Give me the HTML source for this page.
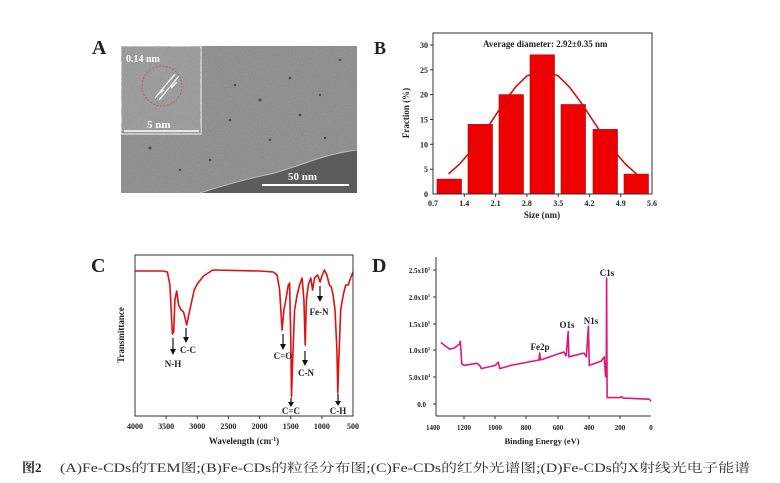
<!DOCTYPE html>
<html><head><meta charset="utf-8"><style>
html,body{margin:0;padding:0;background:#fff;}
svg{display:block;}
text{font-family:"Liberation Serif","Noto Serif CJK SC",serif;font-weight:bold;fill:#222;}
.t{font-size:8px;}
</style></head><body>
<svg width="780" height="483" viewBox="0 0 780 483" xmlns="http://www.w3.org/2000/svg">
<defs>
<filter id="noise" x="0" y="0" width="100%" height="100%">
<feTurbulence type="fractalNoise" baseFrequency="0.9" numOctaves="2" seed="3"/>
<feColorMatrix type="matrix" values="0 0 0 0 0.4  0 0 0 0 0.4  0 0 0 0 0.4  0 0 0 0.6 0"/>
</filter>
<filter id="noise2" x="0" y="0" width="100%" height="100%">
<feTurbulence type="fractalNoise" baseFrequency="0.35" numOctaves="2" seed="7"/>
<feColorMatrix type="matrix" values="0 0 0 0 0.35  0 0 0 0 0.35  0 0 0 0 0.35  0 0 0 1.4 -0.4"/>
</filter>
</defs>

<!-- Panel A -->
<text x="92" y="54" style="font-size:20px">A</text>
<rect x="121" y="46" width="236" height="147" fill="#858585"/>
<rect x="121" y="46" width="236" height="147" filter="url(#noise)"/>
<path d="M200 193 Q240 180 275 173 Q300 165 320 158 Q340 152 357 150 L357 193 Z" fill="#5c5c5c"/>
<path d="M200 193 Q240 180 275 173 Q300 165 320 158 Q340 152 357 150" fill="none" stroke="#bbb" stroke-width="1"/>
<g fill="#4a4a4a">
<circle cx="150" cy="148" r="1.5"/><circle cx="230" cy="120" r="1.3"/><circle cx="290" cy="78" r="1.3"/><circle cx="320" cy="95" r="1.2"/><circle cx="260" cy="100" r="1.5"/><circle cx="210" cy="160" r="1.3"/><circle cx="340" cy="60" r="1.2"/><circle cx="180" cy="170" r="1.2"/><circle cx="270" cy="140" r="1.2"/><circle cx="300" cy="115" r="1.4"/><circle cx="235" cy="85" r="1.2"/><circle cx="325" cy="138" r="1.2"/>
</g>
<rect x="121" y="46" width="80" height="88" fill="#9a9a9a" stroke="#fff" stroke-width="1"/>
<rect x="121" y="46" width="80" height="88" filter="url(#noise2)"/>
<circle cx="162" cy="86" r="20" fill="none" stroke="#c06060" stroke-width="1" stroke-dasharray="2,1.5"/>
<path d="M155 98 L175 74 M159 100 L179 76" stroke="#fff" stroke-width="1.2"/>
<path d="M177 82 L171 88 M158 94 L164 90" stroke="#fff" stroke-width="1.5"/>
<text x="126" y="62" style="font-size:10px;fill:#fff">0.14 nm</text>
<text x="147" y="128" style="font-size:11px;fill:#fff">5 nm</text>
<line x1="124" y1="131" x2="199" y2="131" stroke="#fff" stroke-width="1.5"/>
<text x="288" y="180" style="font-size:11px;fill:#fff">50 nm</text>
<line x1="262" y1="185" x2="349" y2="185" stroke="#fff" stroke-width="2"/>

<!-- Panel B -->
<text x="374" y="54" style="font-size:18px">B</text>
<g fill="#ee0000" stroke="#a00" stroke-width="0.6">
<rect x="437" y="179.1" width="24.5" height="14.9"/>
<rect x="468" y="124.4" width="24.5" height="69.6"/>
<rect x="499" y="94.6" width="24.5" height="99.4"/>
<rect x="530" y="54.8" width="24.5" height="139.2"/>
<rect x="561" y="104.5" width="24.5" height="89.5"/>
<rect x="593" y="129.4" width="24.5" height="64.6"/>
<rect x="624" y="174.1" width="24.5" height="19.9"/>
</g>
<polyline fill="none" stroke="#d01010" stroke-width="1.6" points="448.6,173.9 459.8,163.8 471,150.9 482.2,135.5 493.3,118.7 504.5,101.8 515.7,86.9 526.9,75.9 542.5,69.8 558.2,75.9 569.3,86.9 580.5,101.8 591.7,118.7 602.9,135.5 614,150.9 625.2,163.8 636.4,173.9"/>
<rect x="433" y="33" width="219" height="161" fill="none" stroke="#333" stroke-width="1"/>
<g stroke="#333" stroke-width="1">
<line x1="433" y1="45" x2="430" y2="45"/><line x1="433" y1="69.8" x2="430" y2="69.8"/><line x1="433" y1="94.6" x2="430" y2="94.6"/><line x1="433" y1="119.5" x2="430" y2="119.5"/><line x1="433" y1="144.3" x2="430" y2="144.3"/><line x1="433" y1="169.2" x2="430" y2="169.2"/>
<line x1="464.3" y1="194" x2="464.3" y2="197"/><line x1="495.6" y1="194" x2="495.6" y2="197"/><line x1="526.9" y1="194" x2="526.9" y2="197"/><line x1="558.2" y1="194" x2="558.2" y2="197"/><line x1="589.5" y1="194" x2="589.5" y2="197"/><line x1="620.8" y1="194" x2="620.8" y2="197"/>
</g>
<g class="t" text-anchor="end">
<text x="428" y="48">30</text><text x="428" y="72.8">25</text><text x="428" y="97.6">20</text><text x="428" y="122.5">15</text><text x="428" y="147.3">10</text><text x="428" y="172.2">5</text><text x="428" y="197">0</text>
</g>
<g class="t" text-anchor="middle">
<text x="433" y="206">0.7</text><text x="464.3" y="206">1.4</text><text x="495.6" y="206">2.1</text><text x="526.9" y="206">2.8</text><text x="558.2" y="206">3.5</text><text x="589.5" y="206">4.2</text><text x="620.8" y="206">4.9</text><text x="652" y="206">5.6</text>
</g>
<text x="542" y="218" text-anchor="middle" style="font-size:9px">Size (nm)</text>
<text transform="translate(409,113) rotate(-90)" text-anchor="middle" style="font-size:9px">Fraction (%)</text>
<text x="483" y="47" style="font-size:9px">Average diameter: 2.92±0.35 nm</text>

<!-- Panel C -->
<text x="91" y="272" style="font-size:20px">C</text>
<polyline fill="none" stroke="#e01010" stroke-width="1.6" stroke-linejoin="round" points="135,271 163,271 167.4,272 169.9,285 172.4,334 173.7,332 174.9,300 176.7,291 178.6,305 181.1,310 183.6,312 186.7,325 189.8,310 194.2,290 197.3,284 200.4,280 203.5,276 209.7,272 212.8,270 259.6,271 273.3,272 277.1,275 279.6,290 282.1,330 283.9,310 285.8,300 288.3,285 289.6,283 290.8,340 291.5,397 292.7,360 294.6,310 297.1,295 299.6,285 302.1,278 303.9,300 305.2,345 306.4,300 308.3,285 310.8,278 312.6,290 314.5,278 317.6,275 320.1,282 321.9,276 324.4,270 326.9,275 329.4,285 331.3,287 333.1,295 335,310 336.9,350 337.8,393 338.8,360 340.7,310 343.2,295 345.7,285 348.2,285 350.6,278 353,272"/>
<rect x="135" y="255" width="218" height="161" fill="none" stroke="#333" stroke-width="1"/>
<g stroke="#333">
<line x1="166.1" y1="416" x2="166.1" y2="419"/><line x1="197.3" y1="416" x2="197.3" y2="419"/><line x1="228.4" y1="416" x2="228.4" y2="419"/><line x1="259.6" y1="416" x2="259.6" y2="419"/><line x1="290.7" y1="416" x2="290.7" y2="419"/><line x1="321.9" y1="416" x2="321.9" y2="419"/>
</g>
<g class="t" text-anchor="middle">
<text x="135" y="429">4000</text><text x="166.1" y="429">3500</text><text x="197.3" y="429">3000</text><text x="228.4" y="429">2500</text><text x="259.6" y="429">2000</text><text x="290.7" y="429">1500</text><text x="321.9" y="429">1000</text><text x="353" y="429">500</text>
</g>
<text x="244" y="444" text-anchor="middle" style="font-size:9px">Wavelength (cm<tspan dy="-3" style="font-size:6px">-1</tspan><tspan dy="3">)</tspan></text>
<text transform="translate(124,335) rotate(-90)" text-anchor="middle" style="font-size:9px">Transmittance</text>
<g stroke="#111" stroke-width="1.2">
<line x1="173" y1="338" x2="173" y2="351"/><line x1="186" y1="328" x2="186" y2="339"/><line x1="283" y1="334" x2="283" y2="346"/><line x1="291" y1="398" x2="291" y2="404"/><line x1="305" y1="351" x2="305" y2="362"/><line x1="320" y1="286" x2="320" y2="298"/><line x1="338" y1="394" x2="338" y2="403"/>
</g>
<g fill="#111">
<path d="M170 349 L176 349 L173 355Z"/><path d="M183 337 L189 337 L186 343Z"/><path d="M280 344 L286 344 L283 350Z"/><path d="M288 402 L294 402 L291 407Z"/><path d="M302 360 L308 360 L305 366Z"/><path d="M317 296 L323 296 L320 302Z"/><path d="M335 401 L341 401 L338 406Z"/>
</g>
<g class="t" text-anchor="middle" style="font-size:9px">
<text x="173" y="367">N-H</text><text x="188" y="353">C-C</text><text x="283" y="359">C=O</text><text x="291" y="414">C=C</text><text x="306" y="376">C-N</text><text x="319" y="315">Fe-N</text><text x="338" y="414">C-H</text>
</g>

<!-- Panel D -->
<text x="372" y="272" style="font-size:20px">D</text>
<polyline fill="none" stroke="#e0157a" stroke-width="1.6" stroke-linejoin="round" points="440.8,342.4 445.5,346.1 450.1,349.3 454.8,347.7 459.5,344 460.3,341.3 461.8,363.8 464.2,365.4 476.6,363.3 479.7,365.4 481.3,368.6 495.3,365.4 498.4,362.2 499.7,368.6 510.9,365.4 538.9,360 539.7,353.1 540.5,360 563.8,352 566.1,355.8 568.2,331.6 568.8,356.8 584,353.1 586.4,356.8 588.4,326.3 589.3,365.4 601.2,361.1 604.3,356.8 605.5,376.1 606.3,377.2 606.6,278 607.1,397.6 619.9,397.6 621.4,396.5 623,398.1 635.4,398.6 649.4,399.2 651,401.3"/>
<line x1="436" y1="257" x2="436" y2="416" stroke="#333"/>
<line x1="436" y1="416" x2="651" y2="416" stroke="#333"/>
<g stroke="#333">
<line x1="436" y1="270" x2="433" y2="270"/><line x1="436" y1="297" x2="433" y2="297"/><line x1="436" y1="324" x2="433" y2="324"/><line x1="436" y1="350" x2="433" y2="350"/><line x1="436" y1="377" x2="433" y2="377"/><line x1="436" y1="404" x2="433" y2="404"/>
<line x1="464" y1="416" x2="464" y2="419"/><line x1="495" y1="416" x2="495" y2="419"/><line x1="526" y1="416" x2="526" y2="419"/><line x1="558" y1="416" x2="558" y2="419"/><line x1="589" y1="416" x2="589" y2="419"/><line x1="620" y1="416" x2="620" y2="419"/>
</g>
<g text-anchor="end" style="font-size:7px">
<text x="430" y="273">2.5x10<tspan dy="-3" style="font-size:4px">5</tspan></text>
<text x="430" y="300">2.0x10<tspan dy="-3" style="font-size:4px">5</tspan></text>
<text x="430" y="327">1.5x10<tspan dy="-3" style="font-size:4px">5</tspan></text>
<text x="430" y="353">1.0x10<tspan dy="-3" style="font-size:4px">5</tspan></text>
<text x="430" y="380">5.0x10<tspan dy="-3" style="font-size:4px">4</tspan></text>
<text x="426" y="407">0.0</text>
</g>
<g text-anchor="middle" style="font-size:7px">
<text x="433" y="430">1400</text><text x="464" y="430">1200</text><text x="495" y="430">1000</text><text x="526" y="430">800</text><text x="558" y="430">600</text><text x="589" y="430">400</text><text x="620" y="430">200</text><text x="651" y="430">0</text>
</g>
<text x="542" y="444" text-anchor="middle" style="font-size:8.5px">Binding Energy (eV)</text>
<g text-anchor="middle" style="font-size:9px">
<text x="607" y="276">C1s</text><text x="591" y="324">N1s</text><text x="567" y="328">O1s</text><text x="540" y="350">Fe2p</text>
</g>

<!-- Caption -->
<text x="22" y="472" style="font-size:13px;font-weight:bold">图2</text>
<text x="60" y="472" style="font-size:12.5px;font-weight:normal;fill:#333" textLength="690" lengthAdjust="spacingAndGlyphs">(A)Fe-CDs的TEM图;(B)Fe-CDs的粒径分布图;(C)Fe-CDs的红外光谱图;(D)Fe-CDs的X射线光电子能谱</text>
</svg>
</body></html>
